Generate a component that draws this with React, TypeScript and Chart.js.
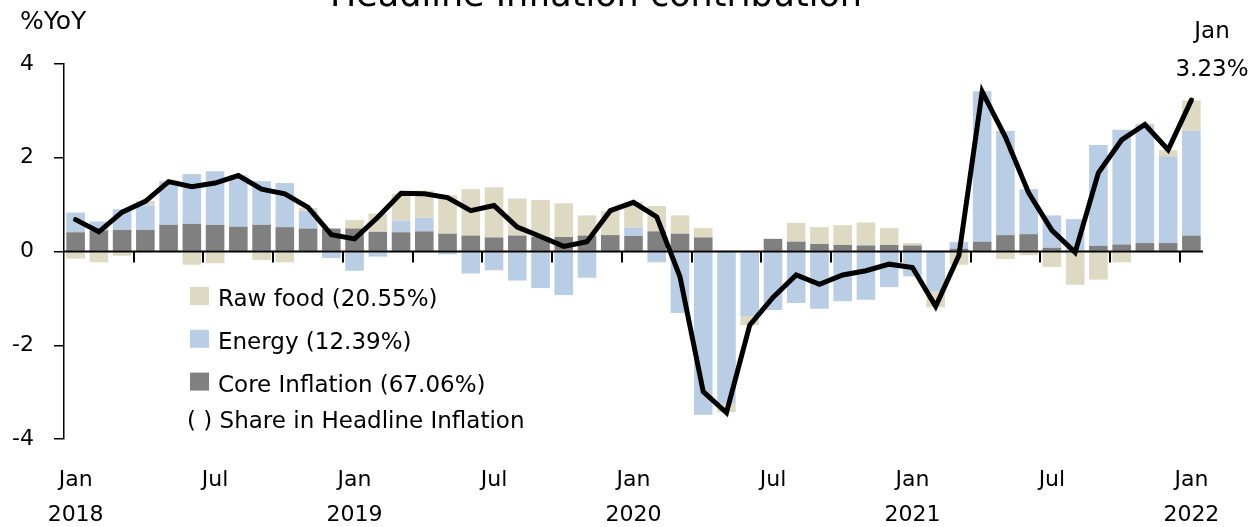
import React, { useEffect, useRef } from 'react';
import Chart from 'chart.js/auto';

// ---- Data ----
const categories = [
  'Jan 2018','Feb 2018','Mar 2018','Apr 2018','May 2018','Jun 2018','Jul 2018','Aug 2018','Sep 2018','Oct 2018','Nov 2018','Dec 2018',
  'Jan 2019','Feb 2019','Mar 2019','Apr 2019','May 2019','Jun 2019','Jul 2019','Aug 2019','Sep 2019','Oct 2019','Nov 2019','Dec 2019',
  'Jan 2020','Feb 2020','Mar 2020','Apr 2020','May 2020','Jun 2020','Jul 2020','Aug 2020','Sep 2020','Oct 2020','Nov 2020','Dec 2020',
  'Jan 2021','Feb 2021','Mar 2021','Apr 2021','May 2021','Jun 2021','Jul 2021','Aug 2021','Sep 2021','Oct 2021','Nov 2021','Dec 2021',
  'Jan 2022',
];

const coreInflation = [
  0.41, 0.45, 0.46, 0.46, 0.57, 0.59, 0.57, 0.53, 0.57, 0.52, 0.49, 0.49,
  0.49, 0.42, 0.41, 0.43, 0.38, 0.34, 0.30, 0.34, 0.31, 0.31, 0.34, 0.35,
  0.33, 0.43, 0.38, 0.30, 0.00, 0.00, 0.27, 0.21, 0.16, 0.14, 0.13, 0.14,
  0.13, 0.00, 0.06, 0.21, 0.35, 0.37, 0.08, 0.00, 0.12, 0.15, 0.18, 0.18,
  0.34,
];

const energy = [
  0.42, 0.19, 0.44, 0.52, 0.92, 1.06, 1.14, 1.07, 0.93, 0.94, 0.38, -0.14,
  -0.41, -0.11, 0.25, 0.29, -0.06, -0.47, -0.40, -0.62, -0.78, -0.93, -0.56, 0.00,
  0.18, -0.23, -1.31, -3.48, -3.25, -1.38, -1.25, -1.10, -1.22, -1.06, -1.03, -0.76,
  -0.53, -0.85, 0.14, 3.21, 2.22, 0.96, 0.69, 0.69, 2.15, 2.45, 2.52, 1.85,
  2.23,
];

const rawFood = [
  -0.15, -0.23, -0.09, 0.10, 0.02, -0.28, -0.25, 0.03, -0.18, -0.23, 0.06, 0.00,
  0.18, 0.39, 0.57, 0.58, 0.82, 0.99, 1.07, 0.79, 0.79, 0.72, 0.43, 0.51,
  0.55, 0.54, 0.39, 0.20, -0.18, -0.19, 0.00, 0.40, 0.36, 0.42, 0.49, 0.36,
  0.05, -0.34, -0.28, 0.00, -0.16, -0.08, -0.33, -0.71, -0.60, -0.23, 0.03, 0.13,
  0.65,
];

const headline = [
  0.68, 0.42, 0.84, 1.07, 1.49, 1.38, 1.46, 1.62, 1.33, 1.23, 0.94, 0.36,
  0.27, 0.73, 1.24, 1.23, 1.15, 0.87, 0.98, 0.52, 0.32, 0.11, 0.21, 0.87,
  1.05, 0.74, -0.54, -2.99, -3.44, -1.57, -0.98, -0.50, -0.70, -0.50, -0.41, -0.27,
  -0.34, -1.17, -0.08, 3.41, 2.44, 1.25, 0.45, -0.02, 1.68, 2.38, 2.71, 2.17,
  3.23,
];

const yTicks = [-4, -2, 0, 2, 4];
const legendLabels = ['Raw food (20.55%)', 'Energy (12.39%)', 'Core Inflation (67.06%)'];
const legendNote = '( ) Share in Headline Inflation';
const titleText = 'Headline Inflation contribution';
const yUnitText = '%YoY';
const lastLabel = ['Jan', '3.23%'];

const RAW = '#ddd9c3';
const ENERGY = '#b9cde5';
const CORE = '#808080';
const FONT = '"DejaVu Sans", sans-serif';

const overlayPlugin = {
  id: 'overlay',
  beforeDatasetDraw(chart: any, args: any) {
    if (args.index !== 3) return;
    const { ctx } = chart;
    const x = chart.scales.x;
    const y = chart.scales.y;
    const y0 = y.getPixelForValue(0);
    ctx.save();
    ctx.strokeStyle = '#000';
    ctx.lineWidth = 2;
    ctx.beginPath();
    ctx.moveTo(chart.chartArea.left, y0);
    ctx.lineTo(chart.chartArea.right, y0);
    ctx.stroke();
    for (let i = 3; i < categories.length; i += 3) {
      const px = Math.round(x.getPixelForValue(i - 0.5));
      ctx.beginPath();
      ctx.moveTo(px, y0);
      ctx.lineTo(px, y0 + 11);
      ctx.stroke();
    }
    ctx.restore();
  },
  afterDraw(chart: any) {
    const { ctx } = chart;
    ctx.save();
    ctx.fillStyle = '#000';
    ctx.textBaseline = 'alphabetic';
    // title (cut off at top)
    ctx.font = `35px ${FONT}`;
    ctx.textAlign = 'center';
    ctx.fillText(titleText, 596, 6);
    // unit
    ctx.font = `25px ${FONT}`;
    ctx.textAlign = 'left';
    ctx.fillText(yUnitText, 20, 29);
    // last value annotation
    ctx.font = `23px ${FONT}`;
    ctx.textAlign = 'center';
    ctx.fillText(lastLabel[0], 1212, 38);
    ctx.fillText(lastLabel[1], 1212, 76);
    // legend
    const colors = [RAW, ENERGY, CORE];
    ctx.textAlign = 'left';
    ctx.font = `23px ${FONT}`;
    legendLabels.forEach((lab, i) => {
      const top = 287 + i * 42.8;
      ctx.fillStyle = colors[i];
      ctx.fillRect(190, top, 19, 18);
      ctx.fillStyle = '#000';
      ctx.fillText(lab, 218, top + 19);
    });
    ctx.fillText(legendNote, 187, 428);
    ctx.restore();
  },
};

export default function App() {
  const ref = useRef<HTMLCanvasElement | null>(null);

  useEffect(() => {
    if (!ref.current) return;
    const chart = new Chart(ref.current, {
      type: 'bar',
      data: {
        labels: categories,
        datasets: [
          { type: 'bar', label: 'Core Inflation', data: coreInflation, backgroundColor: CORE, stack: 'c', order: 1, barPercentage: 0.8, categoryPercentage: 1 },
          { type: 'bar', label: 'Energy', data: energy, backgroundColor: ENERGY, stack: 'c', order: 1, barPercentage: 0.8, categoryPercentage: 1 },
          { type: 'bar', label: 'Raw food', data: rawFood, backgroundColor: RAW, stack: 'c', order: 1, barPercentage: 0.8, categoryPercentage: 1 },
          { type: 'line', label: 'Headline', data: headline, borderColor: '#000', borderWidth: 5, pointRadius: 0, tension: 0, stack: 'h', order: 0, borderCapStyle: 'round', fill: false },
        ],
      } as any,
      options: {
        responsive: false,
        animation: false,
        layout: { padding: { top: 64, right: 50, left: 0, bottom: 0 } },
        plugins: { legend: { display: false }, title: { display: false }, tooltip: { enabled: false } },
        scales: {
          x: {
            stacked: true,
            offset: true,
            grid: { display: false },
            border: { display: false },
            afterFit: (s: any) => { s.height = 88; },
            ticks: {
              autoSkip: false,
              maxRotation: 0,
              padding: 16,
              color: '#000',
              font: { family: FONT, size: 22, lineHeight: '35px' } as any,
              callback: (_v: any, i: number) => {
                const [m, yr] = categories[i].split(' ');
                if (m === 'Jan') return [m, yr];
                if (m === 'Jul') return m;
                return '';
              },
            },
          },
          y: {
            stacked: true,
            min: -4,
            max: 4,
            afterFit: (s: any) => { s.width = 64; },
            afterBuildTicks: (s: any) => { s.ticks = yTicks.map((v) => ({ value: v })); },
            grid: { drawOnChartArea: false, color: '#000', lineWidth: 1.5, tickLength: 10 },
            border: { color: '#000', width: 1.5 },
            ticks: { color: '#000', padding: 20, font: { family: FONT, size: 22 } },
          },
        },
      },
      plugins: [overlayPlugin],
    });
    return () => chart.destroy();
  }, []);

  return (
    <div style={{ position: 'fixed', left: 0, top: 0, width: 1253, height: 527, background: '#fff' }}>
      <canvas ref={ref} width={1253} height={527} style={{ display: 'block' }} />
    </div>
  );
}
